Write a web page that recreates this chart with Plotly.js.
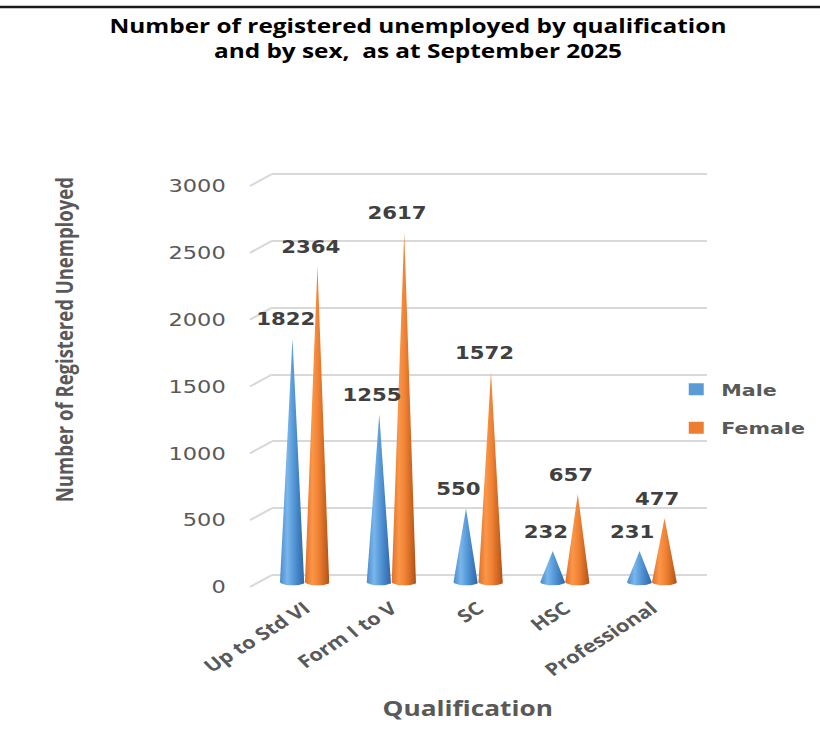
<!DOCTYPE html>
<html><head><meta charset="utf-8">
<script src="https://cdn.plot.ly/plotly-3.0.1.min.js"></script>
<style>
html,body{margin:0;padding:0;background:#fff;overflow:hidden;}
#wrap{width:820px;height:734px;overflow:hidden;}
#chart{width:656px;height:734px;transform:scaleX(1.25);transform-origin:0 0;}
</style></head><body><div id="wrap"><div id="chart"></div></div>
<script>
// ---- data ----
const categories = ['Up to Std VI', 'Form I to V', 'SC', 'HSC', 'Professional'];
const maleValues = [1822, 1255, 550, 232, 231];
const femaleValues = [2364, 2617, 1572, 657, 477];
const seriesNames = ['Male', 'Female'];
const yTickValues = [0, 500, 1000, 1500, 2000, 2500, 3000];
const chartTitle = 'Number of registered unemployed by qualification<br>and by sex,\u00a0 as at September 2025';
const yTitle = 'Number of Registered Unemployed';
const xTitle = 'Qualification';

// ---- geometry / style ----
const S = 1.25;            // horizontal stretch of the picture
const W = 820, H = 734;
const K = 401 / 3000;      // px per unit
const GRID0 = 575;         // px of value 0 on back wall
const CONE0 = 582;         // px of value 0 at cone bases
const seriesOffset = [-0.144, 0.144];
const coneHalfWidth = 0.144;
const coneDepth = 25;
const gradients = [
  [[0,'#4a8ccc'],[0.3,'#7ab6ec'],[0.5,'#5d9fdc'],[0.8,'#3d7cbf'],[1,'#2f68a6']],
  [[0,'#e0712a'],[0.3,'#fb9648'],[0.55,'#f08234'],[0.85,'#c9621f'],[1,'#a9511a']]
];
const solid = ['#5B9BD5', '#ED7D31'];
const seriesValues = [maleValues, femaleValues];

function cone(center, value) {
  const xs = [center], ys = [value], n = 18;
  for (let i = 0; i <= n; i++) {
    const t = i / n * Math.PI;
    xs.push(center + coneHalfWidth * Math.cos(t));
    ys.push(-coneDepth * Math.sin(t));
  }
  xs.push(center); ys.push(value);
  return {xs, ys};
}

const traces = [];
categories.forEach((cat, i) => {
  seriesValues.forEach((vals, s) => {
    const c = cone(i + seriesOffset[s], vals[i]);
    traces.push({
      type: 'scatter', mode: 'lines', x: c.xs, y: c.ys, xaxis: 'x2', yaxis: 'y2',
      fill: 'toself', fillcolor: solid[s],
      fillgradient: {type: 'horizontal', colorscale: gradients[s]},
      line: {width: 0, color: solid[s]}, showlegend: false, hoverinfo: 'skip'
    });
  });
});
seriesNames.forEach((nm, s) => {
  traces.push({type: 'bar', x: [null], y: [null], xaxis: 'x2', yaxis: 'y2', name: nm,
    legendgroup: nm, marker: {color: solid[s]}, showlegend: true});
});

const annotations = [];
categories.forEach((cat, i) => {
  seriesValues.forEach((vals, s) => {
    annotations.push({xref: 'x2', yref: 'y2', x: i + seriesOffset[s], y: vals[i],
      text: String(vals[i]), showarrow: false, yanchor: 'bottom', xanchor: 'center',
      yshift: 7, xshift: -7 / S,
      font: {family: 'DejaVu Sans', size: 17, color: '#404040', weight: 'bold'}});
  });
});
annotations.push({xref: 'paper', yref: 'paper', x: 64 / W, y: 1 - 340 / H, text: yTitle,
  textangle: -90, showarrow: false, xanchor: 'center', yanchor: 'middle',
  font: {family: 'Open Sans', size: 18.5, color: '#595959', weight: 'bold'}});
annotations.push({xref: 'paper', yref: 'paper', x: 467 / W, y: 1 - 708 / H, text: xTitle,
  showarrow: false, xanchor: 'center', yanchor: 'middle',
  font: {family: 'Open Sans', size: 21, color: '#595959', weight: 'bold'}});

const shapes = [{type: 'line', xref: 'paper', yref: 'paper', x0: 0, x1: 1, y0: 1 - 7 / H, y1: 1 - 7 / H,
  line: {color: '#1a1a1a', width: 2.5}}];
yTickValues.forEach(v => {
  shapes.push({type: 'line', xref: 'paper', yref: 'y', xsizemode: 'pixel', ysizemode: 'pixel',
    xanchor: 272 / W, yanchor: v, x0: -22 / S, x1: 0, y0: -12, y1: 0,
    line: {color: '#d9d9d9', width: 2}});
});

const gridRange = [-150, 3010];
const coneRange = [-60, 3000];
const dom = (zeroPx, r) => [(H - (zeroPx - r[0] * K)) / H, (H - (zeroPx - r[1] * K)) / H];

const layout = {
  width: W / S, height: H,
  margin: {l: 0, r: 0, t: 0, b: 0},
  paper_bgcolor: '#ffffff', plot_bgcolor: 'rgba(0,0,0,0)',
  title: {text: chartTitle, x: 418 / W, xanchor: 'center', xref: 'paper',
    y: 1 - 33 / H, yanchor: 'middle', yref: 'container',
    font: {family: 'Open Sans', size: 19.5, color: '#000000', weight: 'bold'}},
  showlegend: true,
  legend: {x: 537 / (W / S), y: 1 - 372 / H, xanchor: 'left', yanchor: 'top',
    xref: 'paper', yref: 'paper', tracegroupgap: 14, traceorder: 'grouped',
    bgcolor: 'rgba(0,0,0,0)',
    font: {family: 'DejaVu Sans', size: 16.5, color: '#595959', weight: 'bold'}},
  xaxis: {domain: [272 / W, 707 / W], range: [0, 1], anchor: 'y', showgrid: false, zeroline: false,
    showline: false, showticklabels: false, ticks: '', fixedrange: true},
  yaxis: {domain: dom(GRID0, gridRange), range: gridRange, anchor: 'x', tickvals: yTickValues,
    showgrid: true, gridcolor: '#d9d9d9', gridwidth: 2, zeroline: false, showline: false, ticks: '',
    ticklabelshift: 12, ticklabelstandoff: 36,
    tickfont: {family: 'DejaVu Sans', size: 18, color: '#595959'}},
  xaxis2: {domain: [261.6 / W, 695.4 / W], range: [-0.5, 4.5], anchor: 'y2',
    tickvals: categories.map((c, i) => i), ticktext: categories, tickangle: -38,
    showgrid: false, zeroline: false, showline: false, ticks: '', ticklabelstandoff: 4,
    tickfont: {family: 'Open Sans', size: 17.5, color: '#595959', weight: 'bold'}},
  yaxis2: {domain: dom(CONE0, coneRange), range: coneRange, anchor: 'x2', visible: false,
    showgrid: false, zeroline: false},
  annotations: annotations,
  shapes: shapes,
  bargap: 0.2
};

Plotly.newPlot('chart', traces, layout, {staticPlot: true, displayModeBar: false});
</script></body></html>
